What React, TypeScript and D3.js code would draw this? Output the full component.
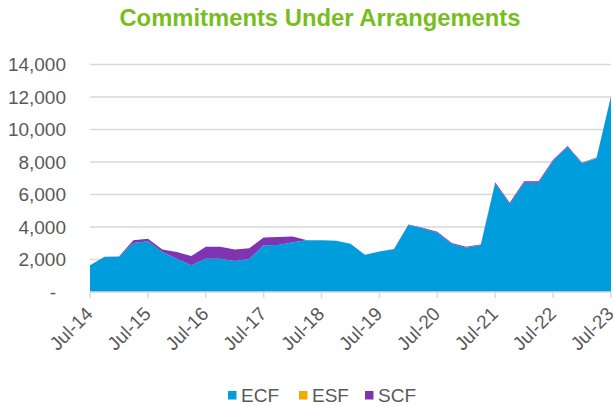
import React from 'react';
import * as d3 from 'd3';

// quarterly, Jul-14 .. Jul-23
const quarters = [
  'Jul-14', 'Oct-14', 'Jan-15', 'Apr-15', 'Jul-15', 'Oct-15', 'Jan-16', 'Apr-16',
  'Jul-16', 'Oct-16', 'Jan-17', 'Apr-17', 'Jul-17', 'Oct-17', 'Jan-18', 'Apr-18',
  'Jul-18', 'Oct-18', 'Jan-19', 'Apr-19', 'Jul-19', 'Oct-19', 'Jan-20', 'Apr-20',
  'Jul-20', 'Oct-20', 'Jan-21', 'Apr-21', 'Jul-21', 'Oct-21', 'Jan-22', 'Apr-22',
  'Jul-22', 'Oct-22', 'Jan-23', 'Apr-23', 'Jul-23',
];
const ecf = [
  1650, 2150, 2170, 3020, 3120, 2460, 2050, 1640,
  2050, 2050, 1910, 2030, 2870, 2890, 3060, 3180,
  3180, 3160, 2970, 2300, 2500, 2630, 4120, 3920,
  3650, 2950, 2730, 2890, 6670, 5400, 6730, 6730,
  8060, 8920, 7920, 8230, 12050,
];
const esf = [
  0, 0, 0, 0, 0, 0, 0, 0,
  0, 0, 0, 0, 0, 0, 0, 0,
  0, 0, 0, 0, 0, 0, 0, 0,
  0, 0, 0, 0, 0, 0, 0, 0,
  0, 0, 15, 15, 10,
];
const scf = [
  0, 20, 20, 160, 160, 150, 410, 570,
  740, 740, 700, 660, 490, 490, 350, 0,
  0, 0, 0, 0, 0, 20, 40, 40,
  60, 60, 50, 40, 80, 100, 80, 80,
  80, 70, 30, 30, 0,
];
const yTicks = [0, 2000, 4000, 6000, 8000, 10000, 12000, 14000];
const xTickLabels = ['Jul-14', 'Jul-15', 'Jul-16', 'Jul-17', 'Jul-18', 'Jul-19', 'Jul-20', 'Jul-21', 'Jul-22', 'Jul-23'];

const seriesKeys = ['ECF', 'ESF', 'SCF'];
const colors: Record<string, string> = { ECF: '#009ddc', ESF: '#f2a900', SCF: '#7f35b2' };

const W = 613;
const H = 406;
const left = 90;
const right = 611;
const top = 64.5;
const bottom = 292;
const font = 'Arial, "Liberation Sans", sans-serif';

export default function App() {
  const rows = quarters.map((q, i) => ({ q, i, ECF: ecf[i], ESF: esf[i], SCF: scf[i] }));
  const stacked = d3.stack<any>().keys(seriesKeys)(rows);

  const x = d3.scaleLinear().domain([0, quarters.length - 1]).range([left, right]);
  const y = d3.scaleLinear().domain([0, 14000]).range([bottom, top]);

  const area = d3
    .area<any>()
    .x((d) => x(d.data.i))
    .y0((d) => y(d[0]))
    .y1((d) => y(d[1]));

  const fmt = d3.format(',');

  return (
    <svg width={W} height={H} style={{ position: 'absolute', left: 0, top: 0 }} fontFamily={font}>
      <text x={320} y={25.5} textAnchor="middle" fontSize={23.8} fontWeight="bold" fill="#78be20">
        Commitments Under Arrangements
      </text>

      {/* gridlines */}
      {yTicks.filter((t) => t > 0).map((t) => (
        <line key={t} x1={left} x2={right} y1={y(t)} y2={y(t)} stroke="#d9d9d9" strokeWidth={1.5} />
      ))}

      {/* y labels */}
      {yTicks.map((t) => (
        <text
          key={t}
          x={t === 0 ? 56 : 66}
          y={y(t)}
          dy="0.35em"
          textAnchor="end"
          fontSize={19}
          fill="#595959"
        >
          {t === 0 ? '-' : fmt(t)}
        </text>
      ))}

      {/* areas */}
      {stacked.map((s) => (
        <path key={s.key} d={area(s) || ''} fill={colors[s.key]} />
      ))}

      {/* x axis */}
      <line x1={left} x2={right} y1={bottom} y2={bottom} stroke="#d9d9d9" strokeWidth={1.5} />
      {xTickLabels.map((lab) => {
        const xi = x(quarters.indexOf(lab));
        return (
          <g key={lab}>
            <line x1={xi} x2={xi} y1={bottom} y2={bottom + 6} stroke="#d9d9d9" strokeWidth={1.5} />
            <text
              transform={`translate(${xi + 4},${bottom + 23}) rotate(-45)`}
              textAnchor="end"
              fontSize={19}
              fill="#595959"
            >
              {lab}
            </text>
          </g>
        );
      })}

      {/* legend */}
      {seriesKeys.map((k, i) => {
        const lx = [228, 299, 365][i];
        return (
          <g key={k}>
            <rect x={lx} y={391} width={8.5} height={8.5} fill={colors[k]} />
            <text x={lx + 13} y={402} fontSize={19} fill="#595959">
              {k}
            </text>
          </g>
        );
      })}
    </svg>
  );
}
